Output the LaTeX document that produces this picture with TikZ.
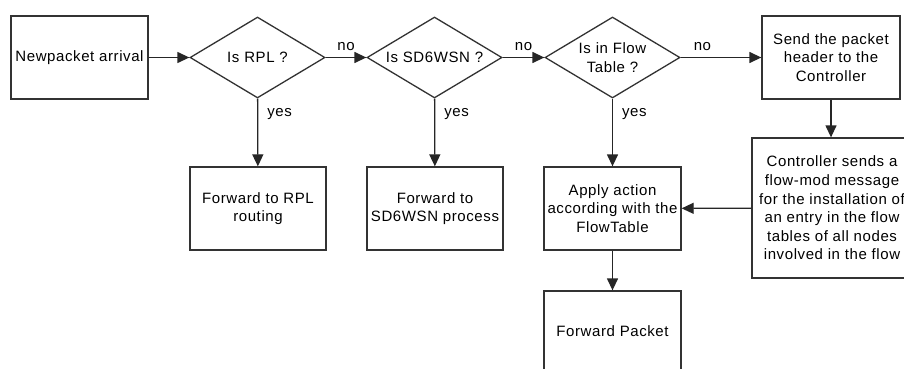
\documentclass[tikz,border=0pt]{standalone}
\usepackage{fontspec}
\setmainfont[LetterSpace=4]{Liberation Sans}
\usetikzlibrary{shapes.geometric,arrows.meta}

\tikzset{
  box/.style={draw=black!80, line width=1.3pt, rectangle, inner sep=0pt,
    align=center, font=\fontsize{15}{18.6}\selectfont, text=black},
  decision/.style={draw=black!80, line width=1.3pt, diamond, aspect=1.667,
    inner sep=0pt, minimum width=135pt, minimum height=81pt,
    align=center, font=\fontsize{15}{18.6}\selectfont, text=black},
  flow/.style={draw=black!85, line width=1.3pt,
    -{Triangle[length=12pt,width=11pt]}},
  lbl/.style={font=\fontsize{15}{17}\selectfont, text=black, inner sep=0pt}
}

\begin{document}
\begin{tikzpicture}[x=1pt,y=-1pt]
  \clip (0,0) rectangle (904,369);
  \fill[white] (0,0) rectangle (904,369);

  % top row
  \node[box, minimum width=137pt, minimum height=83pt] (start) at (79.5,57.5) {Newpacket arrival};
  \node[decision] (rpl) at (257.5,57.5) {Is RPL ?};
  \node[decision] (sd) at (434.5,57.5) {Is SD6WSN ?};
  \node[decision] (ft) at (612.5,57.5) {Is in Flow\\Table ?};
  \node[box, minimum width=138pt, minimum height=83pt] (send) at (831,57.5) {Send the packet\\header to the\\Controller};

  % second row
  \node[box, minimum width=136pt, minimum height=83pt] (fwdrpl) at (258,208.5) {Forward to RPL\\routing};
  \node[box, minimum width=136pt, minimum height=83pt] (fwdsd) at (435,208.5) {Forward to\\SD6WSN process};
  \node[box, minimum width=137pt, minimum height=83pt] (apply) at (612.5,208.5) {Apply action\\according with the\\FlowTable};
  \node[box, minimum width=160pt, minimum height=140pt] (ctrl) at (832,208) {Controller sends a\\flow-mod message\\for the installation of\\an entry in the flow\\tables of all nodes\\involved in the flow};

  % bottom
  \node[box, minimum width=137pt, minimum height=80pt] (fwd) at (612.5,331) {Forward Packet};

  % connectors
  \draw[flow] (start) -- (rpl);
  \draw[flow] (rpl) -- node[lbl, above=6pt, pos=0.5] (no1) {no} (sd);
  \draw[flow] (sd) -- node[lbl, above=6pt, pos=0.5] (no2) {no} (ft);
  \draw[flow] (ft) -- node[lbl, above=6pt, pos=0.27] (no3) {no} (send);
  \draw[flow] (rpl) -- node[lbl, right=9pt, pos=0.23] (yes1) {yes} (fwdrpl);
  \draw[flow] (sd) -- node[lbl, right=9pt, pos=0.23] (yes2) {yes} (fwdsd);
  \draw[flow] (ft) -- node[lbl, right=9pt, pos=0.23] (yes3) {yes} (apply);
  \draw[flow] (send) -- (send.south |- ctrl.north);
  \draw[flow] (ctrl) -- (apply);
  \draw[flow] (apply) -- (fwd);
\end{tikzpicture}
\end{document}
